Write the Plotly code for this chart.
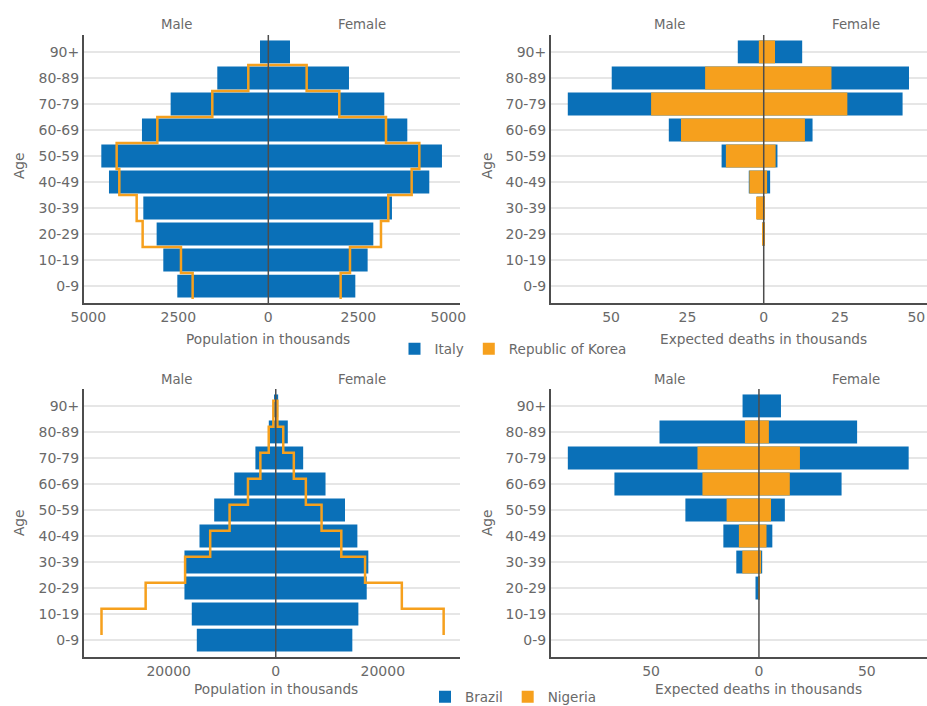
import plotly.graph_objects as go

# ---------------------------------------------------------------- data
AGE_GROUPS = ["0-9", "10-19", "20-29", "30-39", "40-49",
              "50-59", "60-69", "70-79", "80-89", "90+"]

# Population in thousands
italy_pop_male = [2528, 2917, 3102, 3472, 4426, 4639, 3510, 2713, 1417, 231]
italy_pop_female = [2417, 2759, 2917, 3435, 4472, 4824, 3861, 3222, 2241, 602]
korea_pop_male = [2102, 2426, 3491, 3657, 4139, 4213, 3083, 1556, 556, 15]
korea_pop_female = [2009, 2269, 3130, 3333, 3982, 4195, 3269, 1972, 1065, 25]

brazil_pop_male = [14750, 15690, 17060, 17060, 14250, 11500, 7750, 3800, 1300, 200]
brazil_pop_female = [14310, 15440, 17000, 17300, 15250, 12940, 9300, 5125, 2250, 450]
nigeria_pop_male = [32560, 24310, 16940, 12250, 8625, 5190, 2875, 1310, 450, 30]
nigeria_pop_female = [31375, 23560, 16690, 12250, 8560, 5625, 3375, 1400, 300, 40]

# Expected deaths in thousands
italy_deaths_male = [0, 0, 0.3, 2.2, 4.9, 13.8, 31.1, 64.2, 49.8, 8.5]
italy_deaths_female = [0, 0, 0.2, 0.3, 2.1, 4.5, 16.0, 45.5, 47.6, 12.6]
korea_deaths_male = [0, 0, 0.4, 2.5, 4.7, 12.4, 27.1, 36.9, 19.2, 1.6]
korea_deaths_female = [0, 0, 0.2, 0.4, 1.1, 3.9, 13.5, 27.4, 22.2, 3.7]

brazil_deaths_male = [0, 0, 1.6, 10.5, 16.5, 34.1, 67.0, 88.6, 46.1, 7.6]
brazil_deaths_female = [0, 0, 0.3, 1.5, 6.2, 12.0, 38.3, 69.4, 45.5, 10.2]
nigeria_deaths_male = [0, 0, 0.3, 7.7, 9.3, 15.0, 26.2, 28.5, 6.5, 0]
nigeria_deaths_female = [0, 0, 0.2, 1.0, 3.5, 5.6, 14.3, 19.0, 4.6, 0]

# ---------------------------------------------------------------- style
BLUE = "#0a70b8"
ORANGE = "#f6a01d"
GRID = "#e6e6e6"
AXIS = "#4d4d4d"
TEXT = "#696969"
FONT = "DejaVu Sans"
BAR_W = 0.88

W, H = 927, 706


def fx(p):
    return p / W


def fy(p):
    return 1 - p / H


idx = list(range(len(AGE_GROUPS)))
neg = lambda vals: [-v for v in vals]

fig = go.Figure()


def bars(vals, color, xa, ya, name=None, legend=None, show=False):
    fig.add_trace(go.Bar(
        x=vals, y=idx, orientation="h", width=BAR_W,
        marker=dict(color=color, line=dict(width=0)),
        name=name, legendgroup=name, showlegend=show,
        legend=legend, xaxis=xa, yaxis=ya, hoverinfo="skip"))


def step_line(vals, sign, shift, xa, ya):
    # vertical run at each group's value, stepping to the next group
    fig.add_trace(go.Scatter(
        x=[sign * v for v in vals], y=[i + shift for i in idx],
        mode="lines", line=dict(color=ORANGE, width=2.5, shape="vh"),
        showlegend=False, xaxis=xa, yaxis=ya, hoverinfo="skip"))


# top-left: Italy population with Korea outline
bars(neg(italy_pop_male), BLUE, "x", "y")
bars(italy_pop_female, BLUE, "x", "y")
step_line(korea_pop_male, -1, -0.5, "x", "y")
step_line(korea_pop_female, 1, -0.5, "x", "y")

# top-right: expected deaths, Italy vs Korea
bars(neg(italy_deaths_male), BLUE, "x2", "y2", "Italy", "legend", True)
bars(italy_deaths_female, BLUE, "x2", "y2", "Italy", "legend")
bars(neg(korea_deaths_male), ORANGE, "x2", "y2", "Republic of Korea", "legend", True)
bars(korea_deaths_female, ORANGE, "x2", "y2", "Republic of Korea", "legend")

# bottom-left: Brazil population with Nigeria outline
bars(neg(brazil_pop_male), BLUE, "x3", "y3")
bars(brazil_pop_female, BLUE, "x3", "y3")
step_line(nigeria_pop_male, -1, 0.2, "x3", "y3")
step_line(nigeria_pop_female, 1, 0.2, "x3", "y3")

# bottom-right: expected deaths, Brazil vs Nigeria
bars(neg(brazil_deaths_male), BLUE, "x4", "y4", "Brazil", "legend2", True)
bars(brazil_deaths_female, BLUE, "x4", "y4", "Brazil", "legend2")
bars(neg(nigeria_deaths_male), ORANGE, "x4", "y4", "Nigeria", "legend2", True)
bars(nigeria_deaths_female, ORANGE, "x4", "y4", "Nigeria", "legend2")

# ---------------------------------------------------------------- axes
LEFT = [fx(84), fx(460)]
RIGHT = [fx(551), 1.0]
TOP = [fy(303), fy(35)]
BOTTOM = [fy(657), fy(389)]

panels = {
    # key: (x domain, y domain, x range, tick values)
    "": (LEFT, TOP, [-5120, 5325], [-5000, -2500, 0, 2500, 5000]),
    "2": (RIGHT, TOP, [-69.7, 53.5], [-50, -25, 0, 25, 50]),
    "3": (LEFT, BOTTOM, [-35830, 34430], [-20000, 0, 20000]),
    "4": (RIGHT, BOTTOM, [-96.4, 77.9], [-50, 0, 50]),
}

layout_axes = {}
for k, (xd, yd, xr, tv) in panels.items():
    layout_axes["xaxis" + k] = dict(
        domain=xd, range=xr, anchor="y" + k, tickvals=tv,
        ticktext=[f"{abs(v):g}" for v in tv],
        showgrid=False, zeroline=False, showline=True, linecolor=AXIS,
        linewidth=2, ticks="", tickfont=dict(family=FONT, size=14, color=TEXT),
        fixedrange=True, automargin=False)
    layout_axes["yaxis" + k] = dict(
        domain=yd, range=[-0.65, 9.65], anchor="x" + k, tickvals=idx,
        ticktext=AGE_GROUPS, showgrid=True, gridcolor=GRID, gridwidth=2,
        zeroline=False, showline=True, linecolor=AXIS, linewidth=2,
        ticks="", tickfont=dict(family=FONT, size=14, color=TEXT),
        fixedrange=True, automargin=False)

# zero lines drawn over the bars
shapes = [dict(type="line", xref="x" + k, yref=("y" + k) + " domain",
               x0=0, x1=0, y0=0, y1=1, layer="above",
               line=dict(color=AXIS, width=1.5)) for k in panels]

# ---------------------------------------------------------------- labels
annotations = []


def label(text, x, y, size=13, angle=0, xref="paper"):
    annotations.append(dict(
        text=text, x=x, y=y, xref=xref, yref="paper", showarrow=False,
        xanchor="center", yanchor="middle", textangle=angle,
        font=dict(family=FONT, size=size, color=TEXT)))


for row_y in (24, 380):
    for mx, fxp in ((177, 362), (670, 856)):
        label("Male", fx(mx), fy(row_y), 13.3)
        label("Female", fx(fxp), fy(row_y), 13.3)

label("Population in thousands", 0, fy(339), 13.7, xref="x")
label("Expected deaths in thousands", 0, fy(339), 13.7, xref="x2")
label("Population in thousands", 0, fy(689), 13.7, xref="x3")
label("Expected deaths in thousands", 0, fy(689), 13.7, xref="x4")

for ax_x, ax_y in ((19, 166), (487, 166), (19, 523), (487, 523)):
    label("Age", fx(ax_x), fy(ax_y), 13.7, angle=-90)

fig.update_layout(
    width=W, height=H,
    margin=dict(l=0, r=0, t=0, b=0, autoexpand=False),
    paper_bgcolor="white", plot_bgcolor="white",
    barmode="overlay",
    font=dict(family=FONT, color=TEXT),
    shapes=shapes,
    annotations=annotations,
    legend=dict(orientation="h", x=fx(513), xanchor="center",
                y=fy(349), yanchor="middle",
                font=dict(family=FONT, size=13.5, color=TEXT),
                bgcolor="rgba(0,0,0,0)"),
    legend2=dict(orientation="h", x=fx(513), xanchor="center",
                 y=fy(697), yanchor="middle",
                 font=dict(family=FONT, size=13.5, color=TEXT),
                 bgcolor="rgba(0,0,0,0)"),
    **layout_axes,
)

fig.write_html("out.html")
